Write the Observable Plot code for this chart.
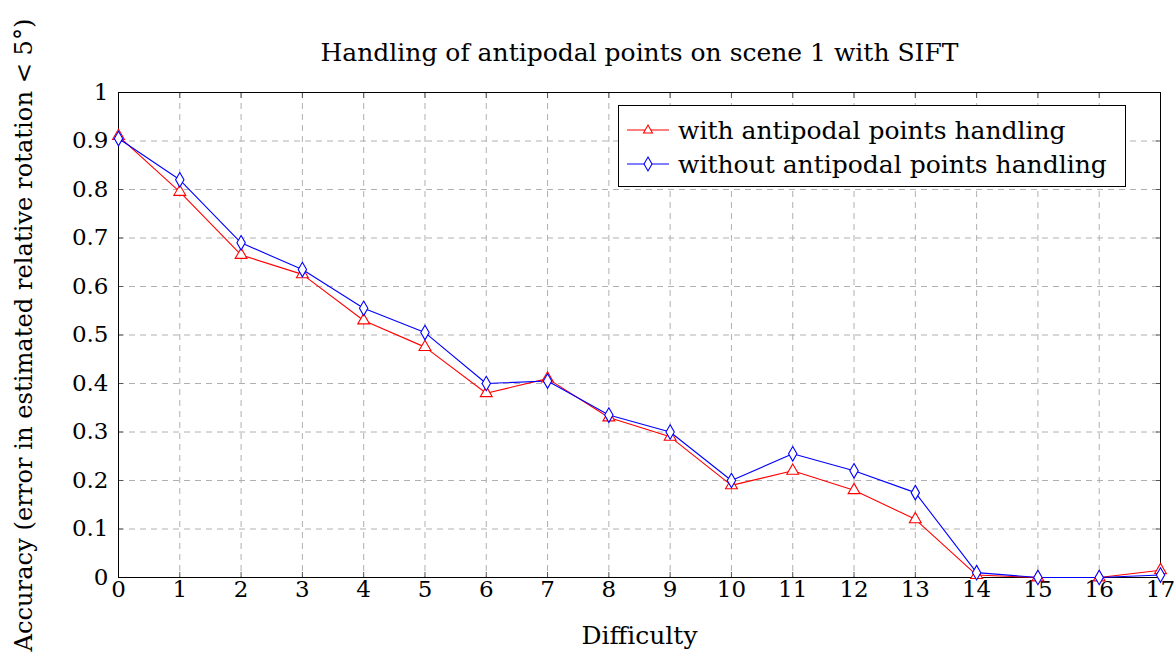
<!DOCTYPE html>
<html>
<head>
<meta charset="utf-8">
<script src="https://cdn.jsdelivr.net/npm/d3@7"></script>
<script src="https://cdn.jsdelivr.net/npm/@observablehq/plot@0.6"></script>
<style>
  html, body { margin: 0; padding: 0; background: white; }
  #wrap { position: relative; width: 1175px; height: 666px; font-family: "DejaVu Serif", serif; }
  #wrap svg text { font-family: "DejaVu Serif", serif !important; }
  #legend { position: absolute; left: 618px; top: 105px; width: 506px; height: 80px; border: 1px solid black; background: white; font-size: 25px; font-family: "DejaVu Serif", serif; }
  .row { position: absolute; left: 8px; height: 30px; display: flex; align-items: center; white-space: nowrap; }
  .row svg { margin-right: 9px; }
</style>
</head>
<body>
<div id="wrap"></div>
<script>
const difficulty = [0,1,2,3,4,5,6,7,8,9,10,11,12,13,14,15,16,17];
const withHandling = [0.91,0.795,0.665,0.625,0.53,0.475,0.38,0.41,0.33,0.29,0.19,0.22,0.18,0.12,0.005,0,0,0.015];
const withoutHandling = [0.905,0.82,0.69,0.635,0.555,0.505,0.40,0.405,0.335,0.30,0.20,0.255,0.22,0.175,0.01,0,0,0.005];
const seriesNames = ["with antipodal points handling", "without antipodal points handling"];
const seriesColors = ["#ff0000", "#0000ff"];
const seriesSymbols = ["triangle", "diamond"];
const yTicks = [0,0.1,0.2,0.3,0.4,0.5,0.6,0.7,0.8,0.9,1];
const titleText = "Handling of antipodal points on scene 1 with SIFT";
const xLabel = "Difficulty";
const yLabel = "Accuracy (error in estimated relative rotation < 5°)";

const rows = [];
[withHandling, withoutHandling].forEach((vals, s) => {
  vals.forEach((v, i) => rows.push({x: difficulty[i], y: v, series: seriesNames[s]}));
});

const gridStyle = {stroke: "#b0b0b0", strokeOpacity: 1, strokeDasharray: "6,5", strokeWidth: 1};

const chart = Plot.plot({
  width: 1175,
  height: 666,
  marginLeft: 118,
  marginRight: 15,
  marginTop: 92,
  marginBottom: 89,
  style: {fontFamily: "'DejaVu Serif', serif", fontSize: "23px", background: "white", color: "black", overflow: "visible"},
  x: {domain: [0, 17]},
  y: {domain: [0, 1]},
  color: {domain: seriesNames, range: seriesColors},
  symbol: {domain: seriesNames, range: seriesSymbols},
  marks: [
    Plot.gridX(difficulty, gridStyle),
    Plot.gridY(yTicks, gridStyle),
    Plot.axisX(difficulty, {tickSize: -5, tickPadding: 8, stroke: "#555", label: null, fontSize: 23}),
    Plot.axisX({anchor: "bottom", ticks: [], label: xLabel, labelAnchor: "center", labelArrow: "none", labelOffset: 66, fontSize: 25}),
    Plot.axisX(difficulty, {anchor: "top", tickSize: -5, stroke: "#555", tickFormat: () => "", label: null}),
    Plot.axisY(yTicks, {tickSize: -5, tickPadding: 15, stroke: "#555", tickFormat: d => String(d), label: null, fontSize: 23}),
    Plot.axisY({anchor: "left", ticks: [], label: yLabel, labelAnchor: "center", labelArrow: "none", labelOffset: 104, fontSize: 24.2}),
    Plot.axisY(yTicks, {anchor: "right", tickSize: -5, stroke: "#555", tickFormat: () => "", label: null}),
    Plot.frame({stroke: "black", strokeWidth: 1}),
    Plot.line(rows, {x: "x", y: "y", z: "series", stroke: "series", strokeWidth: 1.1}),
    Plot.dot(rows, {x: "x", y: "y", stroke: "series", symbol: "series", fill: "white", r: 4.4, strokeWidth: 1.1}),
    Plot.text([titleText], {frameAnchor: "top", lineAnchor: "middle", dy: -40, fontSize: 25, fill: "black"})
  ]
});
const wrap = document.getElementById("wrap");
wrap.appendChild(chart);

const legend = document.createElement("div");
legend.id = "legend";
seriesNames.forEach((name, i) => {
  const row = document.createElement("div");
  row.className = "row";
  row.style.top = (i === 0 ? 9 : 43) + "px";
  const sym = i === 0
    ? `<polygon points="21,10 25.5,18 16.5,18" fill="white" stroke="${seriesColors[i]}" stroke-width="1.1"/>`
    : `<polygon points="21,8 25,15 21,22 17,15" fill="white" stroke="${seriesColors[i]}" stroke-width="1.1"/>`;
  row.innerHTML = `<svg width="42" height="30"><line x1="0" x2="42" y1="15" y2="15" stroke="${seriesColors[i]}" stroke-width="1.1"/>${sym}</svg><span>${name}</span>`;
  legend.appendChild(row);
});
wrap.appendChild(legend);
</script>
</body>
</html>
